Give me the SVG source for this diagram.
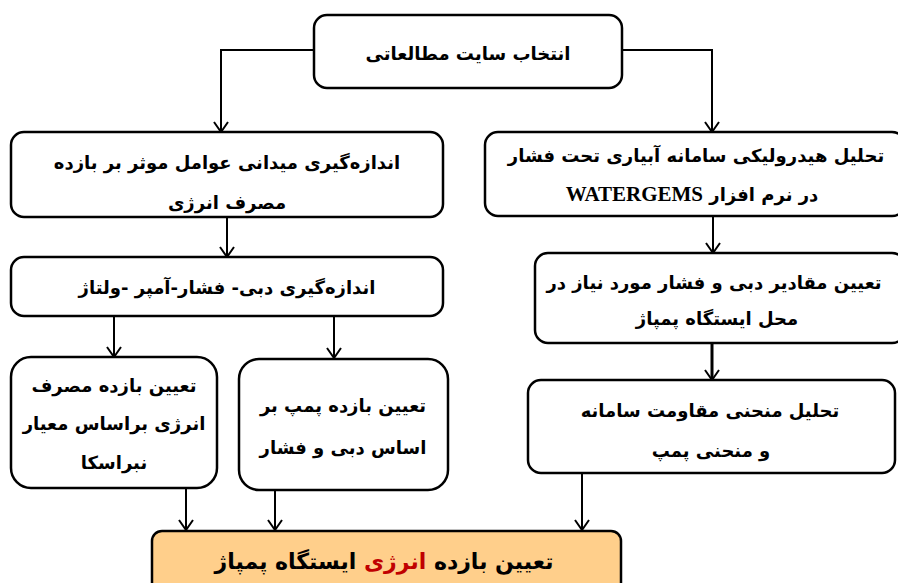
<svg xmlns="http://www.w3.org/2000/svg" width="898" height="583" viewBox="0 0 898 583">
<style>
.box{fill:#fff;stroke:#000;stroke-width:2.5}
.hl{fill:#FFCF8B;stroke:#000;stroke-width:2.5}
.t{font-family:"DejaVu Sans",sans-serif;font-weight:bold;font-size:18px;fill:#000;text-anchor:middle;direction:rtl}
.big{font-size:22px}
.c{fill:none;stroke:#000;stroke-width:2}
.lat{font-family:"Liberation Serif",serif;font-weight:bold;font-size:21px}
</style>
<defs>
<marker id="ah" markerWidth="12" markerHeight="16" refX="11" refY="8" orient="auto" markerUnits="userSpaceOnUse" viewBox="0 0 12 16">
<path d="M1,1 L11,8 L1,15" fill="none" stroke="#000" stroke-width="2"/>
</marker>
</defs>
<rect width="898" height="583" fill="#fff"/>
<g id="connectors">
<path class="c" d="M314,50 H221 V132" marker-end="url(#ah)"/>
<path class="c" d="M622,50 H712 V132" marker-end="url(#ah)"/>
<path class="c" d="M227,217 V257" marker-end="url(#ah)"/>
<path class="c" d="M713,216 V253" marker-end="url(#ah)"/>
<path class="c" d="M712,343 V380" style="stroke-width:3" marker-end="url(#ah)"/>
<path class="c" d="M114,316 V357" marker-end="url(#ah)"/>
<path class="c" d="M334,316 V358" marker-end="url(#ah)"/>
<path class="c" d="M186,488 V530" marker-end="url(#ah)"/>
<path class="c" d="M275,490 V530" marker-end="url(#ah)"/>
<path class="c" d="M582,473 V530" marker-end="url(#ah)"/>
</g>
<g id="n1">
<rect class="box" x="314" y="15" width="308" height="73" rx="13"/>
<text class="t" x="468" y="60">انتخاب سایت مطالعاتی</text>
</g>
<g id="n2">
<rect class="box" x="11" y="132" width="432" height="85" rx="13"/>
<text class="t" x="227" y="169">اندازه‌گیری میدانی عوامل موثر بر بازده</text>
<text class="t" x="227" y="209">مصرف انرژی</text>
</g>
<g id="n3">
<rect class="box" x="11" y="257" width="432" height="59" rx="13"/>
<text class="t" x="227" y="294">اندازه‌گیری دبی- فشار-آمپر -ولتاژ</text>
</g>
<g id="n4">
<rect class="box" x="485" y="132" width="420" height="84" rx="13"/>
<text class="t" x="696" y="162">تحلیل هیدرولیکی سامانه آبیاری تحت فشار</text>
<text class="t" x="692" y="201">در نرم افزار <tspan class="lat">WATERGEMS</tspan></text>
</g>
<g id="n5">
<rect class="box" x="535" y="253" width="370" height="90" rx="13"/>
<text class="t" x="714" y="289">تعیین مقادیر دبی و فشار مورد نیاز در</text>
<text class="t" x="717" y="325">محل ایستگاه پمپاژ</text>
</g>
<g id="n6">
<rect class="box" x="528" y="380" width="367" height="93" rx="13"/>
<text class="t" x="710" y="417">تحلیل منحنی مقاومت سامانه</text>
<text class="t" x="711" y="457">و منحنی پمپ</text>
</g>
<g id="n7">
<rect class="box" x="11" y="357" width="206" height="131" rx="20"/>
<text class="t" x="114" y="392">تعیین بازده مصرف</text>
<text class="t" x="114" y="430">انرژی براساس معیار</text>
<text class="t" x="114" y="469">نبراسکا</text>
</g>
<g id="n8">
<rect class="box" x="239" y="359" width="209" height="131" rx="20"/>
<text class="t" x="343" y="412">تعیین بازده پمپ بر</text>
<text class="t" x="343" y="454">اساس دبی و فشار</text>
</g>
<g id="n9">
<rect class="hl" x="152" y="531" width="469" height="70" rx="10"/>
<text class="t big" x="384" y="569">تعیین بازده <tspan fill="#C00000">انرژی</tspan> ایستگاه پمپاژ</text>
</g>
</svg>
